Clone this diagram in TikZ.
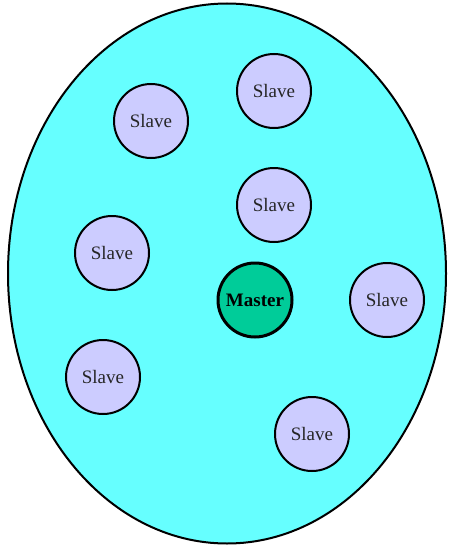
\documentclass[tikz,border=0pt]{standalone}
\usepackage{fontspec}
\setmainfont{Liberation Serif}
\usetikzlibrary{shapes.geometric}
\definecolor{bgcyan}{RGB}{102,255,255}
\definecolor{slavefill}{RGB}{204,204,255}
\definecolor{masterfill}{RGB}{0,204,153}
\tikzset{
  slavenode/.style={circle, draw=black, line width=2pt, fill=slavefill, minimum size=74pt, inner sep=0pt, font=\fontsize{19}{19}\selectfont, text=black!85},
  masternode/.style={circle, draw=black, line width=3pt, fill=masterfill, minimum size=74pt, inner sep=0pt, font=\fontsize{19}{19}\selectfont\bfseries, text=black},
}
\begin{document}
\begin{tikzpicture}[x=1pt,y=-1pt]
\useasboundingbox (0,0) rectangle (452,546);
\node[ellipse, draw=black, line width=2pt, fill=bgcyan, minimum width=438pt, minimum height=540pt, inner sep=0pt] (cluster) at (227,273.5) {};
\node[slavenode] (s1) at (151,121) {Slave};
\node[slavenode] (s2) at (274,91) {Slave};
\node[slavenode] (s3) at (274,205) {Slave};
\node[slavenode] (s4) at (112,253) {Slave};
\node[masternode] (m) at (255,300) {Master};
\node[slavenode] (s5) at (387,300) {Slave};
\node[slavenode] (s6) at (103,377) {Slave};
\node[slavenode] (s7) at (312,434) {Slave};
\end{tikzpicture}
\end{document}
